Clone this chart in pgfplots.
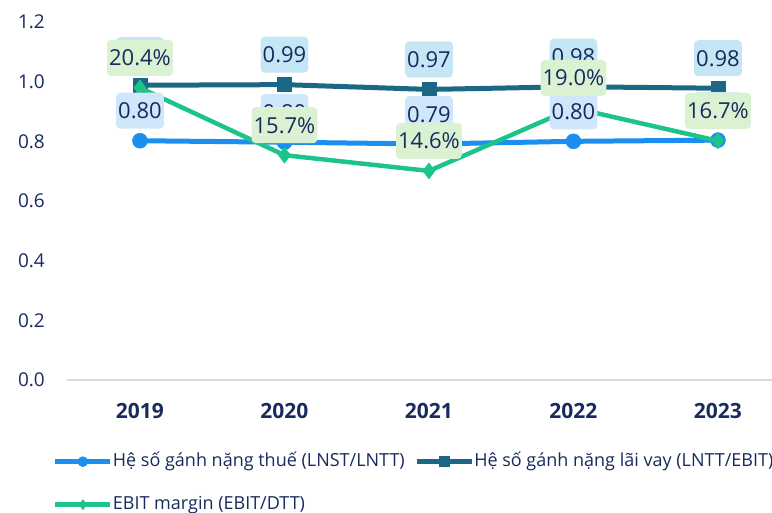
\documentclass[border=0pt]{standalone}
\usepackage{pgfplots}
\usepackage{pgfplotstable}
\pgfplotsset{compat=1.18}
\usepackage{fontspec}
\setmainfont{Open Sans}

\definecolor{navy}{RGB}{24,42,94}
\definecolor{taxblue}{RGB}{28,142,240}
\definecolor{intteal}{RGB}{27,104,132}
\definecolor{ebitgreen}{RGB}{29,196,138}
\definecolor{taxfill}{RGB}{208,230,250}
\definecolor{intfill}{RGB}{196,230,245}
\definecolor{ebitfill}{RGB}{218,242,210}
\definecolor{basegray}{RGB}{217,217,217}

% ratios per year; ebit in percent
\pgfplotstableread{
x tax interest ebit
0 0.802 0.988 20.4
1 0.797 0.990 15.7
2 0.791 0.974 14.6
3 0.800 0.983 19.0
4 0.804 0.978 16.7
}\ratios

\pgfplotsset{
  /pgf/number format/assume math mode=true,
  base/.style={
    at={(67bp,133bp)}, anchor=south west,
    scale only axis, width=705bp, height=358bp,
    xmin=-0.505, xmax=4.374,
    clip=false,
  },
  prim/.style={base, ymin=0, ymax=1.2},
  sec/.style={base, ymin=0, ymax=25, hide axis},
  lbl/.style={
    nodes near coords,
    point meta=y,
    every node near coord/.append style={
      anchor=center, yshift=30bp, font=\fontsize{22bp}{26bp}\selectfont,
      text=navy, fill=#1, rounded corners=4bp, inner xsep=2bp, inner ysep=10bp,
      text height=16bp, text depth=0bp},
  },
}

\begin{document}
\begin{tikzpicture}
\path[use as bounding box] (0,0) rectangle (772bp,513bp);

% visible axis: lines of the two burden ratios
\begin{axis}[prim,
  ytick={0,0.2,0.4,0.6,0.8,1.0,1.2},
  yticklabel style={/pgf/number format/.cd,fixed,precision=1,zerofill,/tikz/.cd,
    anchor=east, xshift=-22bp, inner sep=0pt,
    font=\fontsize{19bp}{22bp}\selectfont, text=navy},
  xtick={0,1,2,3,4},
  xticklabels={\textbf{2019},\textbf{2020},\textbf{2021},\textbf{2022},\textbf{2023}},
  xticklabel style={anchor=center, yshift=-31bp, inner sep=0pt,
    font=\fontsize{21bp}{24bp}\selectfont, text=navy},
  axis x line=bottom, axis y line=left,
  y axis line style={draw=none},
  x axis line style={-, draw=basegray, line width=1.5bp},
  major tick length=0pt,
  legend columns=2,
  legend cell align=left,
  legend image code/.code={
    \draw[mark repeat=2,mark phase=2,#1,mark size=5bp] plot coordinates {(0bp,0bp) (27.5bp,0bp) (55bp,0bp)};
  },
  legend style={at={(-0.020,-0.203)}, anchor=north west, draw=none, fill=none,
    inner sep=0pt, outer sep=0pt,
    font=\fontsize{18bp}{20bp}\selectfont, text=navy,
    nodes={inner xsep=0bp, inner ysep=0bp, text height=14bp, text depth=4bp},
    row sep=25bp,
    /tikz/every even column/.append style={column sep=9.5bp}},
]
\addplot[taxblue, line width=5bp, mark=*, mark size=7.5bp, mark options={solid, line width=0.5bp}]
  table[x=x, y=tax] {\ratios};
\addlegendentry{Hệ số gánh nặng thuế (LNST/LNTT)}
\addplot[intteal, line width=5bp, mark=square*, mark size=7bp, mark options={solid, line width=0.5bp}]
  table[x=x, y=interest] {\ratios};
\addlegendentry{Hệ số gánh nặng lãi vay (LNTT/EBIT)}
\addlegendimage{ebitgreen, line width=4.5bp, mark=diamond*, mark options={solid, line width=0.5bp}}
\addlegendentry{EBIT margin (EBIT/DTT)}
\end{axis}

% EBIT margin line on a hidden secondary scale (0-25%)
\begin{axis}[sec]
\addplot[ebitgreen, line width=4.5bp, mark=diamond*, mark size=8bp, mark options={solid, line width=0.5bp}]
  table[x=x, y=ebit] {\ratios};
\end{axis}

% data labels, drawn above all lines
\begin{axis}[prim, hide axis]
\addplot[draw=none, mark=none, lbl=intfill,
  nodes near coords={\pgfmathprintnumber[fixed,precision=2,zerofill]{\pgfplotspointmeta}}]
  table[x=x, y=interest] {\ratios};
\addplot[draw=none, mark=none, lbl=taxfill,
  nodes near coords={\pgfmathprintnumber[fixed,precision=2,zerofill]{\pgfplotspointmeta}}]
  table[x=x, y=tax] {\ratios};
\end{axis}

\begin{axis}[sec]
\addplot[draw=none, mark=none, lbl=ebitfill,
  nodes near coords={\pgfmathprintnumber[fixed,precision=1,zerofill]{\pgfplotspointmeta}\%}]
  table[x=x, y=ebit] {\ratios};
\end{axis}
\end{tikzpicture}
\end{document}
